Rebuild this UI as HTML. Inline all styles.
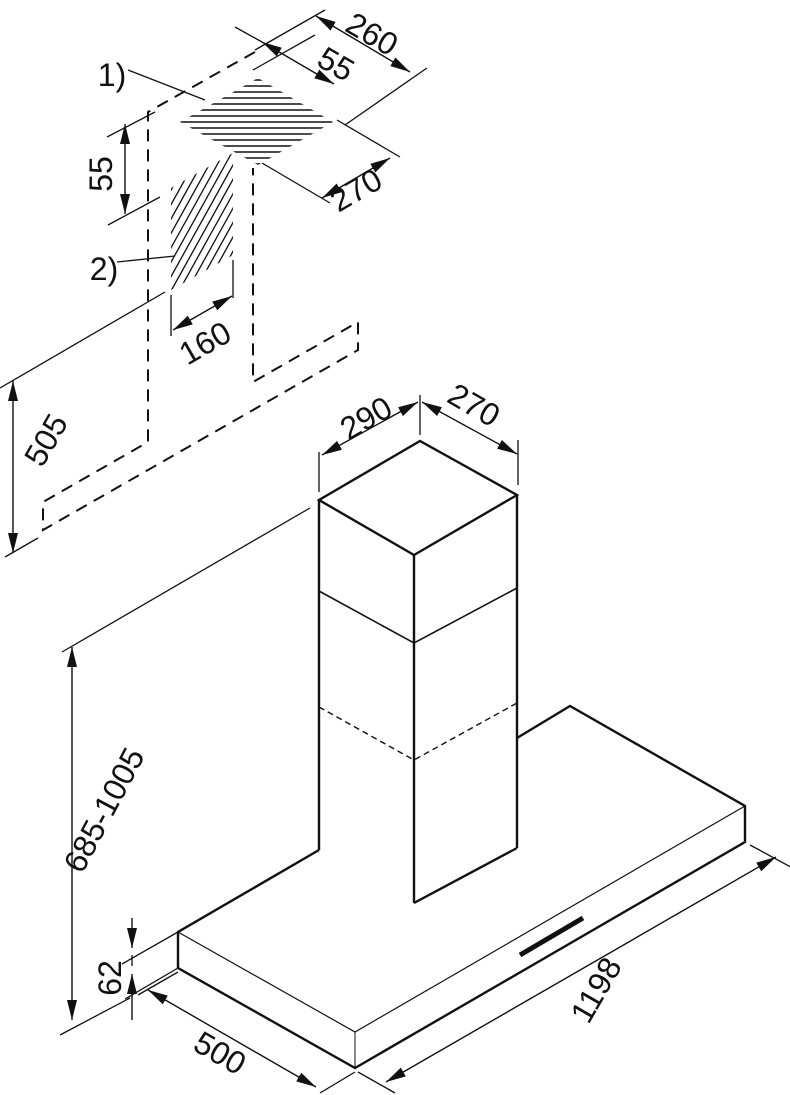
<!DOCTYPE html>
<html><head><style>
html,body{margin:0;padding:0;background:#fff;}
svg{display:block;}
text{font-family:"Liberation Sans",sans-serif;font-size:32px;fill:#111;text-anchor:middle;dominant-baseline:central;}
</style></head><body>
<svg width="790" height="1095" viewBox="0 0 790 1095" xmlns="http://www.w3.org/2000/svg">
<defs>
<marker id="a" viewBox="0 0 20 10" refX="20" refY="5" markerWidth="20" markerHeight="10" markerUnits="userSpaceOnUse" orient="auto-start-reverse"><path d="M0,0 L20,5 L0,10 Z" fill="#111"/></marker>
<clipPath id="c1"><polygon points="180,122 258,78 333,122 258,165"/></clipPath>
<clipPath id="c2"><polygon points="171,188 233,153 233,255 171,290"/></clipPath>
</defs>
<g stroke="#111" fill="none">
<g stroke-width="2" stroke-dasharray="12,8">
<path d="M255,52 L148,112 L148,442 L43,502 L43,530 L358,350 L358,322 L253,382 L253,168"/>
</g>
<g clip-path="url(#c1)" stroke-width="1.6">
<path d="M170,80H340M170,86H340M170,92H340M170,98H340M170,104H340M170,110H340M170,116H340M170,122H340M170,128H340M170,134H340M170,140H340M170,146H340M170,152H340M170,158H340M170,164H340"/>
</g>
<g clip-path="url(#c2)" stroke-width="1.3">
<path d="M150,300l100,-180M158,300l100,-180M166,300l100,-180M174,300l100,-180M182,300l100,-180M190,300l100,-180M198,300l100,-180M206,300l100,-180M214,300l100,-180M222,300l100,-180M230,300l100,-180M142,300l100,-180M134,300l100,-180M126,300l100,-180M118,300l100,-180M110,300l100,-180M102,300l100,-180M94,300l100,-180"/>
</g>
<g stroke-width="1.3">
<path d="M128,70 L205,100"/>
<path d="M117,262 L175,256"/>
<path d="M325,10 L255,50 M345,125 L427,68 M253,70 L315,35"/>
<path d="M337,120 L400,157 M262,163 L330,203"/>
<path d="M107,137 L155,112 M108,225 L160,197"/>
<path d="M171,295 L171,336 M233,260 L233,298"/>
<path d="M0,388 L165,292 M5,557 L38,538"/>
<path d="M235,27 L262,42" />
</g>
<g stroke-width="1.4" marker-start="url(#a)" marker-end="url(#a)">
<path d="M316,16 L410,72"/>
<path d="M262,42 L334,84"/>
<path d="M322,198 L390,158"/>
<path d="M125,124 L125,214"/>
<path d="M173,330 L232,296"/>
<path d="M13,381 L13,553"/>
</g>
<g stroke-width="2.4">
<path d="M319,500 L420,441 L517,495 L414,555 Z"/>
<path d="M319,500 L319,850 M414,555 L414,903 M517,495 L517,848"/>
<path d="M414,903 L517,848"/>
</g>
<g stroke-width="1.6"><path d="M319,591 L414,643 L517,588"/></g>
<g stroke-width="1.4" stroke-dasharray="6,4"><path d="M319,707 L414,760 L517,703"/></g>
<g stroke-width="2.4">
<path d="M517,738 L570,706 L745,806 L745,842 L355,1068 L178,968 L178,932 L319,850"/>
<path d="M355,1068 L355,1032" stroke-width="1"/>
</g>
<g stroke-width="1.2"><path d="M178,932 L355,1032 L745,806"/></g>
<path d="M520,955 L583,918" stroke-width="5"/>
<g stroke-width="1.3">
<path d="M319,492 L319,452 M420,435 L420,395 M518,485 L518,440"/>
<path d="M310,508 L62,652 M130,998 L60,1035"/>
<path d="M178,932 L122,964 M178,968 L125,999"/>
<path d="M178,972 L138,995 M355,1072 L320,1093 M358,1072 L395,1093 M750,845 L800,872"/>
</g>
<g stroke-width="1.4" marker-start="url(#a)" marker-end="url(#a)">
<path d="M322,455 L418,402"/>
<path d="M422,402 L517,454"/>
<path d="M72,647 L72,1020"/>
<path d="M148,990 L316,1087"/>
<path d="M386,1082 L776,857"/>
</g>
<g stroke-width="1.4" marker-end="url(#a)">
<path d="M132,918 L132,948"/>
<path d="M132,1020 L132,974"/>
</g>
<path d="M132,955 L132,966" stroke-width="1.3"/>
</g>
<text x="112" y="75">1)</text>
<text x="104" y="269">2)</text>
<text transform="translate(372,34) rotate(30)">260</text>
<text transform="translate(336,64) rotate(30)">55</text>
<text transform="translate(356,190) rotate(-30)">270</text>
<text transform="translate(101,174) rotate(-90)">55</text>
<text transform="translate(205,343) rotate(-30)">160</text>
<text transform="translate(46,440) rotate(-60)">505</text>
<text transform="translate(366,418) rotate(-30)">290</text>
<text transform="translate(474,405) rotate(30)">270</text>
<text transform="translate(104,810) rotate(-62)">685-1005</text>
<text transform="translate(110,978) rotate(-90)">62</text>
<text transform="translate(220,1053) rotate(30)">500</text>
<text transform="translate(596,990) rotate(-60)">1198</text>
</svg>
</body></html>
